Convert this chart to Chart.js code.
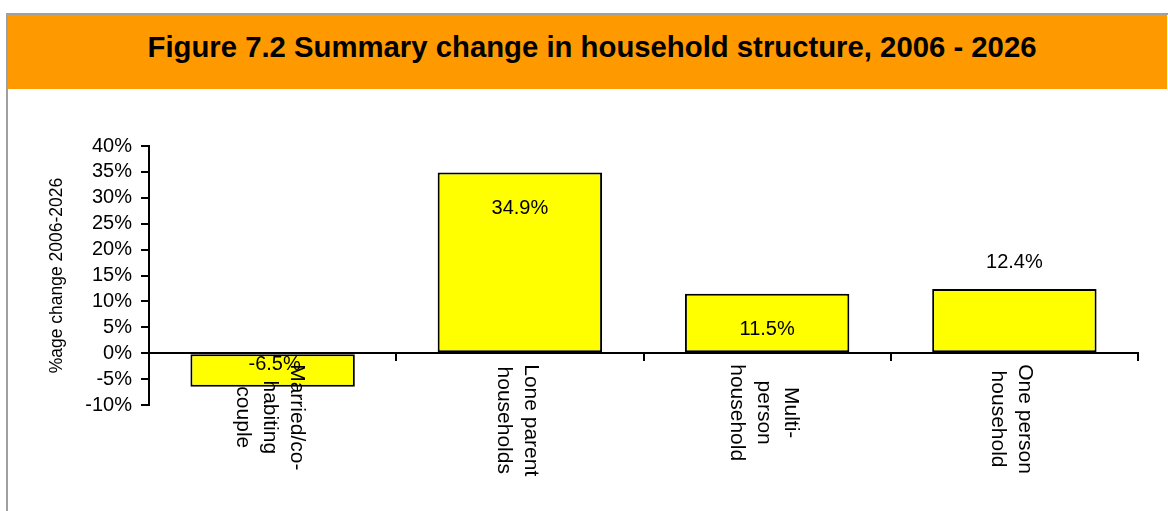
<!DOCTYPE html>
<html>
<head>
<meta charset="utf-8">
<title>Figure 7.2</title>
<script src="https://cdn.jsdelivr.net/npm/chart.js@4.4.0/dist/chart.umd.min.js"></script>
<style>
    html, body { margin: 0; padding: 0; background: #fff; }
    #frame {
        position: absolute; left: 6px; top: 13px; width: 1162px; height: 498px;
        border-left: 2px solid #a0a0a0; border-top: 2px solid #a0a0a0;
    }
    #band {
        position: absolute; left: 8px; top: 15px; width: 1159px; height: 74px;
        background: #ff9900;
    }
    #band h1 {
        margin: 0; padding-left: 9px;
        font: bold 29.3px "Liberation Sans", Arial, sans-serif;
        line-height: 64px; text-align: center; color: #000;
    }
    #wrap { position: absolute; left: 0; top: 0; width: 1168px; height: 511px; }
</style>
</head>
<body>
<div id="frame"></div>
<div id="band"><h1>Figure 7.2 Summary change in household structure, 2006 - 2026</h1></div>
<div id="wrap"><canvas id="chart"></canvas></div>
<script>
// Данные графика
const categories = [
    ['Married/co-', 'habiting', 'couple'],
    ['Lone parent', 'households'],
    ['Multi-', 'person', 'household'],
    ['One person', 'household']
];
const changeValues = [-6.5, 34.9, 11.5, 12.4];
const yTicks = [-10, -5, 0, 5, 10, 15, 20, 25, 30, 35, 40];
const yTitle = '%age change 2006-2026';

// Сдвиг подписей значений относительно конца столбца (как в исходнике Excel)
const LABEL_DX = [2, 0, 0, 0];
const LABEL_DY = [-22, 36, 36, -26];
const LINE_GAP = 27;
const FONT = '"Liberation Sans", Arial, sans-serif';

const valueLabels = {
    id: 'valueLabels',
    afterDatasetsDraw(chart) {
        const ctx = chart.ctx;
        const meta = chart.getDatasetMeta(0);
        ctx.save();
        ctx.font = '20px ' + FONT;
        ctx.fillStyle = '#000';
        ctx.textAlign = 'center';
        ctx.textBaseline = 'middle';
        meta.data.forEach((bar, i) => {
            ctx.fillText(changeValues[i].toFixed(1) + '%', bar.x + LABEL_DX[i], bar.y + LABEL_DY[i]);
        });
        ctx.restore();
    }
};

// Подписи категорий повёрнуты на 90° по часовой, как в оригинале
const categoryLabels = {
    id: 'categoryLabels',
    afterDraw(chart) {
        const ctx = chart.ctx;
        const xScale = chart.scales.x;
        const zeroY = chart.scales.y.getPixelForValue(0);
        ctx.save();
        ctx.font = '21px ' + FONT;
        ctx.fillStyle = '#000';
        ctx.textAlign = 'center';
        ctx.textBaseline = 'middle';
        categories.forEach((lines, i) => {
            const cx = xScale.getPixelForValue(i) - 3;
            const maxW = Math.max(...lines.map((l) => ctx.measureText(l).width));
            const along = zeroY + 11 + maxW / 2;
            lines.forEach((line, j) => {
                const across = cx + (lines.length - 1) / 2 * LINE_GAP - j * LINE_GAP;
                ctx.save();
                ctx.translate(across, along);
                ctx.rotate(Math.PI / 2);
                ctx.fillText(line, 0, 0);
                ctx.restore();
            });
        });
        ctx.restore();
    }
};

new Chart(document.getElementById('chart'), {
    type: 'bar',
    data: {
        labels: categories,
        datasets: [{
            data: changeValues,
            backgroundColor: '#ffff00',
            borderColor: '#000',
            borderWidth: 2,
            borderSkipped: false,
            categoryPercentage: 1,
            barPercentage: 0.665
        }]
    },
    options: {
        responsive: true,
        maintainAspectRatio: false,
        animation: false,
        layout: { padding: { left: 0, top: 146, right: 30, bottom: 106 } },
        plugins: {
            legend: { display: false },
            tooltip: { enabled: false },
            title: { display: false }
        },
        scales: {
            x: {
                position: { y: 0 },
                grid: {
                    offset: true,
                    drawOnChartArea: false,
                    drawTicks: true,
                    tickLength: 7,
                    color: '#000',
                    lineWidth: 2
                },
                border: { display: true, color: '#000', width: 2 },
                ticks: { display: false }
            },
            y: {
                min: yTicks[0],
                max: yTicks[yTicks.length - 1],
                afterBuildTicks: (scale) => { scale.ticks = yTicks.map((v) => ({ value: v })); },
                afterFit: (scale) => { scale.width = 149; },
                grid: {
                    drawOnChartArea: false,
                    drawTicks: true,
                    tickLength: 8,
                    color: '#000',
                    lineWidth: 2
                },
                border: { display: true, color: '#000', width: 2 },
                ticks: {
                    autoSkip: false,
                    padding: 9,
                    color: '#000',
                    font: { family: FONT, size: 20 },
                    callback: (v) => v + '%'
                },
                title: {
                    display: true,
                    text: yTitle,
                    color: '#000',
                    font: { family: FONT, size: 17.5 },
                    padding: { top: 47, bottom: 0 }
                }
            }
        }
    },
    plugins: [valueLabels, categoryLabels]
});
</script>
</body>
</html>
